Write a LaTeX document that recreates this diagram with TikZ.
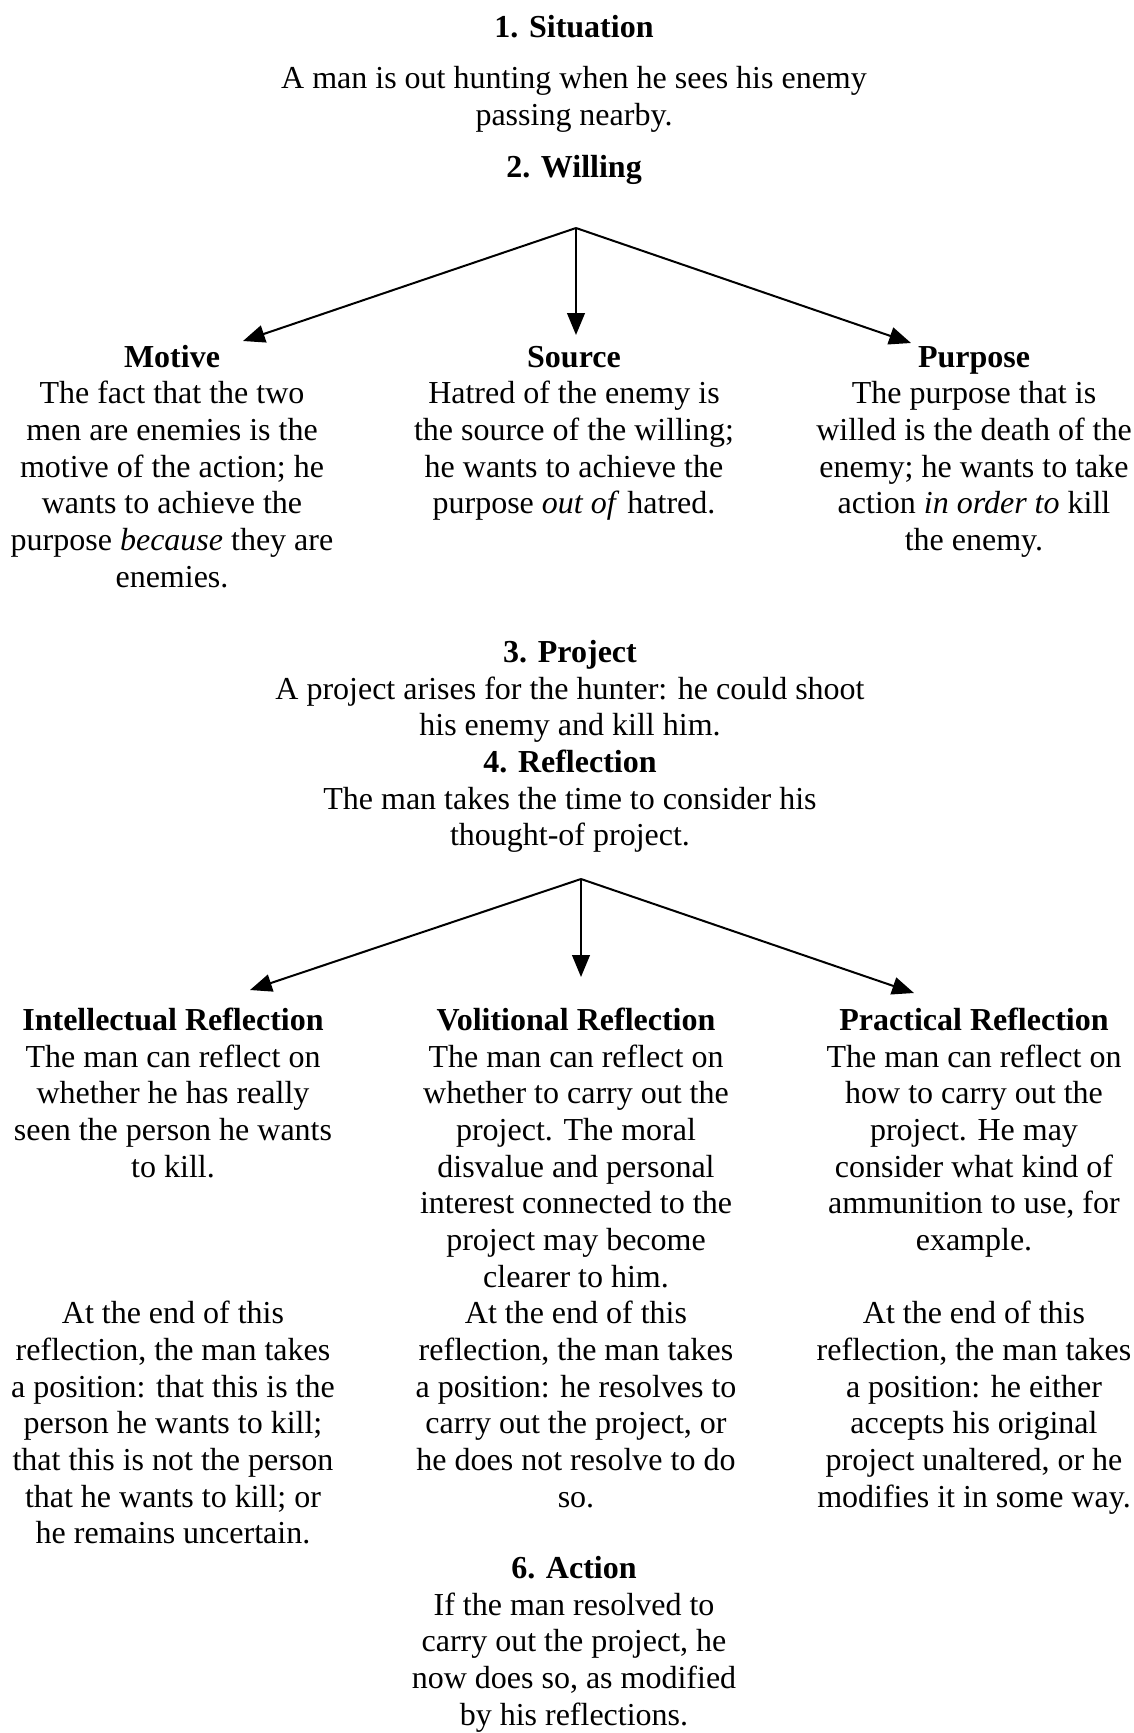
\documentclass[tikz,border=0pt]{standalone}
\usepackage{fontspec}
\setmainfont{Liberation Serif}
\usetikzlibrary{arrows.meta}
\newcommand{\fsz}{\fontsize{12}{13.75}\selectfont}
\begin{document}
\begin{tikzpicture}[x=0.375pt,y=-0.375pt,
  txt/.style={font=\fsz, align=center, inner sep=0pt, anchor=north},
  arr/.style={line width=0.75pt, -{Triangle[length=8.2pt,width=6.6pt]}}]
\useasboundingbox (0,0) rectangle (1134,1733);
% baselines -> north = baseline - 25.7
\node[txt] (sit) at (574,11.3) {\strut\textbf{1. Situation}};
\node[txt] (sitb) at (574,62.3) {\strut A man is out hunting when he sees his enemy\\passing nearby.};
\node[txt] (will) at (574,151.3) {\strut\textbf{2. Willing}};
\coordinate (a1) at (576,228);
\node[txt] (motive) at (172,340.8) {\strut\textbf{Motive}\\The fact that the two\\men are enemies is the\\motive of the action; he\\wants to achieve the\\purpose \textit{because} they are\\enemies.};
\node[txt] (source) at (574,340.8) {\strut\textbf{Source}\\Hatred of the enemy is\\the source of the willing;\\he wants to achieve the\\purpose \textit{out of} hatred.};
\node[txt] (purpose) at (974,340.8) {\strut\textbf{Purpose}\\The purpose that is\\willed is the death of the\\enemy; he wants to take\\action \textit{in order to} kill\\the enemy.};
\coordinate (t1) at (243,341);
\coordinate (t2) at (576,335);
\coordinate (t3) at (911,343);
\draw[arr] (a1) -- (t1);
\draw[arr] (a1) -- (t2);
\draw[arr] (a1) -- (t3);
\node[txt] (project) at (570,636.3) {\strut\textbf{3. Project}\\A project arises for the hunter: he could shoot\\his enemy and kill him.\\\textbf{4. Reflection}\\The man takes the time to consider his\\thought-of project.};
\coordinate (a2) at (581,879);
\coordinate (u1) at (250,990);
\coordinate (u2) at (581,977);
\coordinate (u3) at (914,993);
\draw[arr] (a2) -- (u1);
\draw[arr] (a2) -- (u2);
\draw[arr] (a2) -- (u3);
\node[txt] (intel) at (173,1004.3) {\strut\textbf{Intellectual Reflection}\\The man can reflect on\\whether he has really\\seen the person he wants\\to kill.};
\node[txt] (intelb) at (173,1297.7) {\strut At the end of this\\reflection, the man takes\\a position: that this is the\\person he wants to kill;\\that this is not the person\\that he wants to kill; or\\he remains uncertain.};
\node[txt] (vol) at (576,1004.3) {\strut\textbf{Volitional Reflection}\\The man can reflect on\\whether to carry out the\\project. The moral\\disvalue and personal\\interest connected to the\\project may become\\clearer to him.};
\node[txt] (volb) at (576,1297.7) {\strut At the end of this\\reflection, the man takes\\a position: he resolves to\\carry out the project, or\\he does not resolve to do\\so.};
\node[txt] (prac) at (974,1004.3) {\strut\textbf{Practical Reflection}\\The man can reflect on\\how to carry out the\\project. He may\\consider what kind of\\ammunition to use, for\\example.};
\node[txt] (pracb) at (974,1297.7) {\strut At the end of this\\reflection, the man takes\\a position: he either\\accepts his original\\project unaltered, or he\\modifies it in some way.};
\node[txt] (action) at (574,1552.3) {\strut\textbf{6. Action}\\If the man resolved to\\carry out the project, he\\now does so, as modified\\by his reflections.};
\end{tikzpicture}
\end{document}
